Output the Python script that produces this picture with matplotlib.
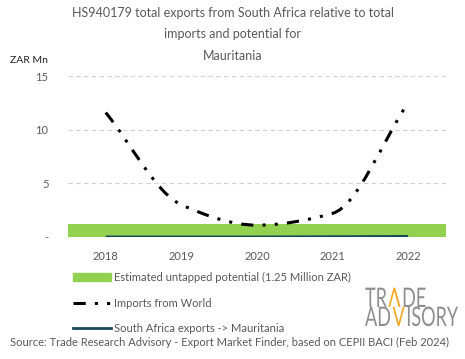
import numpy as np
import matplotlib
matplotlib.use('Agg')
import matplotlib.pyplot as plt
from matplotlib.path import Path
from matplotlib.patches import PathPatch, Patch
from matplotlib.lines import Line2D
from matplotlib.textpath import TextPath
from matplotlib.font_manager import FontProperties
from matplotlib import transforms

plt.rcParams['font.family'] = ['Lato', 'DejaVu Sans']

# data
years = ['2018', '2019', '2020', '2021', '2022']
imports_world = [11.6, 3.0, 1.1, 2.2, 12.5]
sa_exports = [0.0, 0.0, 0.0, 0.02, 0.05]
potential = 1.25
yticks = [0, 5, 10, 15]
ytick_labels = ['-', '5', '10', '15']

grey = '#595959'
green = '#92D050'
teal = '#17485A'


def smooth_path(xs, ys):
    # monotone cubic bezier through the points (no overshoot)
    xs = np.asarray(xs, float)
    ys = np.asarray(ys, float)
    n = len(xs)
    d = np.diff(ys) / np.diff(xs)
    m = np.zeros(n)
    m[0], m[-1] = d[0], d[-1]
    for i in range(1, n - 1):
        if d[i - 1] * d[i] <= 0:
            m[i] = 0
        else:
            m[i] = 2 / (1 / d[i - 1] + 1 / d[i])
    verts = [(xs[0], ys[0])]
    codes = [Path.MOVETO]
    for i in range(n - 1):
        h = xs[i + 1] - xs[i]
        verts += [(xs[i] + h / 3, ys[i] + m[i] * h / 3),
                  (xs[i + 1] - h / 3, ys[i + 1] - m[i + 1] * h / 3),
                  (xs[i + 1], ys[i + 1])]
        codes += [Path.CURVE4] * 3
    return Path(verts, codes)


fig = plt.figure(figsize=(4.65, 3.59), dpi=100)
ax = fig.add_axes([0.146, 0.340, 0.813, 0.448])

x = np.arange(len(years))

# untapped potential band across the whole axis
ax.fill_between([-0.5, len(years) - 0.5], 0, potential, color=green, lw=0)

ax.plot(x, sa_exports, color=teal, lw=2, solid_capstyle='butt')

dashdotdot = (0, (4, 3, 1, 3, 1, 3))
patch = PathPatch(smooth_path(x, imports_world), facecolor='none', edgecolor='black',
                  lw=2.2, linestyle=dashdotdot)
ax.add_patch(patch)

ax.set_xlim(-0.5, len(years) - 0.5)
ax.set_ylim(0, 15)
ax.set_xticks(x)
ax.set_xticklabels(years)
ax.set_yticks(yticks)
ax.set_yticklabels(ytick_labels)
ax.tick_params(length=0, colors=grey, labelsize=8, pad=10)
ax.tick_params(axis='y', pad=14)
for s in ax.spines.values():
    s.set_visible(False)
for yv in yticks[1:]:
    ax.axhline(yv, color='#d0d0d0', lw=0.8, ls=(0, (4, 3)), zorder=0)

# title
fig.text(0.5, 0.965, 'HS940179 total exports from South Africa relative to total',
         ha='center', va='center', fontsize=9, color=grey)
fig.text(0.5, 0.905, 'imports and potential for', ha='center', va='center', fontsize=9, color=grey)
fig.text(0.5, 0.845, 'Mauritania', ha='center', va='center', fontsize=9, color=grey)
fig.text(0.022, 0.832, 'ZAR Mn', ha='left', va='center', fontsize=7.5, color='#222222')

handles = [Patch(color=green),
           Line2D([0], [0], color='black', lw=2.2, ls=dashdotdot),
           Line2D([0], [0], color=teal, lw=2)]
labels = ['Estimated untapped potential (1.25 Million ZAR)', 'Imports from World',
          'South Africa exports -> Mauritania']
fig.legend(handles, labels, loc='upper left', bbox_to_anchor=(0.135, 0.27),
           frameon=False, fontsize=8, labelcolor=grey, handlelength=3.4,
           handletextpad=0.3, labelspacing=1.3)

# logo, drawn as condensed text paths in pixel coordinates
logo_grey = '#8f8f8f'
orange = '#F5A623'
fp = FontProperties(family='Lato', weight='normal')
size = 27
sx = 90 / TextPath((0, 0), 'ADVISORY', size=size, prop=fp).get_extents().width
dot_w = TextPath((0, 0), '.', size=size, prop=fp).get_extents().width


def logo_line(parts, x0, y0):
    xc = x0
    for part, col in parts:
        tp = TextPath((0, 0), part, size=size, prop=fp)
        tr = transforms.Affine2D().scale(sx, 1).translate(xc, y0) + transforms.IdentityTransform()
        fig.patches.append(PathPatch(tp, facecolor=col, lw=0, transform=tr, figure=fig))
        adv = TextPath((0, 0), part + '.', size=size, prop=fp).get_extents().width - dot_w
        xc += adv * sx + 0.6


logo_line([('TR', logo_grey), ('\u039b', orange), ('DE', logo_grey)], 365, 359 - 307)
logo_line([('AD', logo_grey), ('V', orange), ('ISORY', logo_grey)], 365, 359 - 326)

fig.text(0.022, 0.045, 'Source: Trade Research Advisory - Export Market Finder, based on CEPII BACI (Feb 2024)',
         ha='left', va='center', fontsize=8, color=grey)

fig.savefig('out.png', dpi=100)
